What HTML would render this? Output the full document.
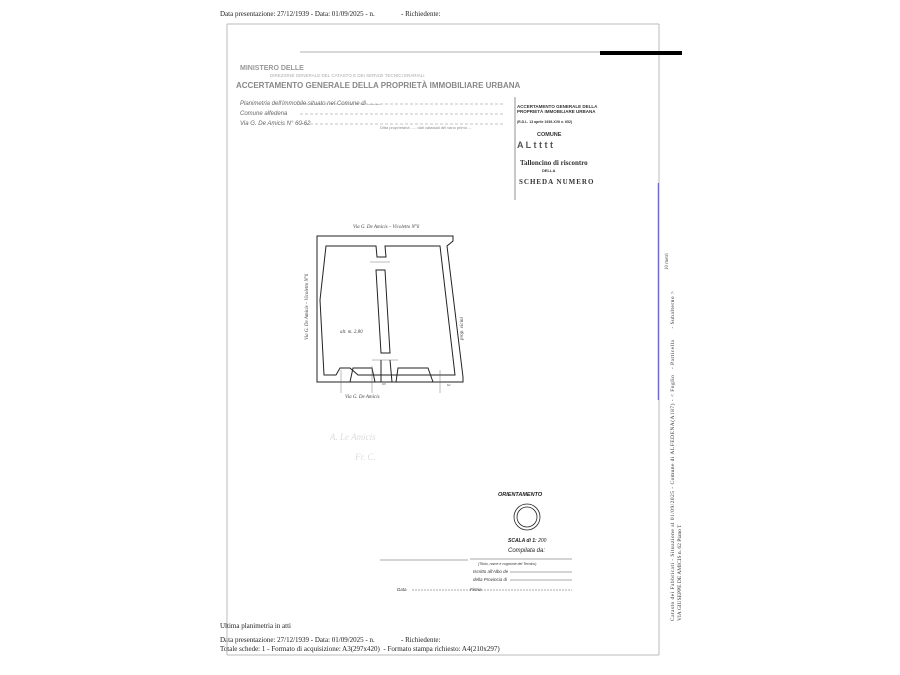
<!DOCTYPE html>
<html><head><style>
body{margin:0;background:#fff;width:900px;height:675px;overflow:hidden;position:relative;font-family:"Liberation Serif",serif;}
.t{position:absolute;font-size:7px;color:#222;white-space:nowrap;}
</style></head><body>
<div class="t" style="left:220px;top:10px;">Data presentazione: 27/12/1939 - Data: 01/09/2025 - n. &nbsp;&nbsp;&nbsp;&nbsp;&nbsp;&nbsp;&nbsp;&nbsp;&nbsp;&nbsp;&nbsp;&nbsp;&nbsp; - Richiedente:</div>
<div class="t" style="left:220px;top:622px;">Ultima planimetria in atti</div>
<div class="t" style="left:220px;top:636px;">Data presentazione: 27/12/1939 - Data: 01/09/2025 - n. &nbsp;&nbsp;&nbsp;&nbsp;&nbsp;&nbsp;&nbsp;&nbsp;&nbsp;&nbsp;&nbsp;&nbsp;&nbsp; - Richiedente:</div>
<div class="t" style="left:220px;top:645px;">Totale schede: 1 - Formato di acquisizione: A3(297x420) &nbsp;- Formato stampa richiesto: A4(210x297)</div>
<svg width="900" height="675" style="position:absolute;left:0;top:0" font-family="Liberation Sans, sans-serif">
<g stroke="#bbb" stroke-width="1" fill="none">
<line x1="227" y1="24" x2="659" y2="24"/>
<line x1="227" y1="24" x2="227" y2="655"/>
<line x1="659" y1="24" x2="659" y2="183"/>
<line x1="659" y1="400" x2="659" y2="655"/>
<line x1="227" y1="655" x2="659" y2="655"/>
</g>
<line x1="658.5" y1="183" x2="658.5" y2="400" stroke="#6b6bd0" stroke-width="1.5"/>
<line x1="300" y1="52" x2="600" y2="52" stroke="#999" stroke-width="0.8"/>
<line x1="600" y1="53" x2="682" y2="53" stroke="#000" stroke-width="4"/>
<g fill="#777" font-size="7">
<text x="240" y="70" font-weight="bold" fill="#999">MINISTERO DELLE</text>
<text x="270" y="77" font-size="4.5" fill="#aaa">DIREZIONE GENERALE DEL CATASTO E DEI SERVIZI TECNICI ERARIALI</text>
<text x="236" y="88" font-weight="bold" font-size="8" fill="#888">ACCERTAMENTO GENERALE DELLA PROPRIETÀ IMMOBILIARE URBANA</text>
<text x="240" y="105" font-style="italic" font-size="6" fill="#666">Planimetria dell'immobile situato nel Comune di ........</text>
<text x="240" y="115" font-style="italic" font-size="6" fill="#666">Comune alfedena</text>
<text x="240" y="125" font-style="italic" font-size="6" fill="#666">Via G. De Amicis N° 60-62</text>
<text x="380" y="129" font-size="4" fill="#888">Ditta proprietaria ..... dati catastali del vano primo ....</text>
</g>
<g stroke="#888" stroke-width="0.6" stroke-dasharray="3,2"><line x1="300" y1="104" x2="505" y2="104"/><line x1="300" y1="114" x2="505" y2="114"/><line x1="300" y1="124" x2="505" y2="124"/></g>
<line x1="515" y1="97" x2="515" y2="200" stroke="#777" stroke-width="0.8"/>
<g font-size="4.5" fill="#333" font-weight="bold">
<text x="517" y="108">ACCERTAMENTO GENERALE DELLA</text>
<text x="517" y="113">PROPRIETÀ IMMOBILIARE URBANA</text>
<text x="517" y="123" font-size="3.5">(R.D.L. 13 aprile 1939-XVII n. 652)</text>
<text x="537" y="136" font-size="5.5">COMUNE</text>
<text x="517" y="148" font-size="9" fill="#555">A L  t  t  t  t</text>
<text x="520" y="165" font-size="7" font-family="Liberation Serif, serif">Talloncino di riscontro</text>
<text x="542" y="172" font-size="4">DELLA</text>
<text x="519" y="184" font-size="7" font-family="Liberation Serif, serif" letter-spacing="1">SCHEDA NUMERO</text>
</g>
<g fill="none" stroke="#222" stroke-width="1">
<path d="M317,236 L453,236 L453,241 L447,246 L463,377 L463,382 L317,382 Z"/>
<path d="M326,246 L376,246 L377,257 L386,257 L385,246 L440,246 L455,375 L358,375 L350,368 L340,368 L336,375 L324,375 L320,300 Z"/>
<path d="M376,270 L385,270 L390,353 L381,353 Z"/>
<path d="M350,382 L353,368 L372,368 L375,382"/>
<path d="M396,382 L398,368 L428,368 L433,382"/>
<path d="M381,360 L381,382 M390,360 L392,382"/>
</g>
<g stroke="#555" stroke-width="0.4"><line x1="370" y1="262" x2="390" y2="262"/><line x1="372" y1="360" x2="398" y2="360"/><line x1="341" y1="370" x2="341" y2="393"/><line x1="372" y1="366" x2="372" y2="393"/><line x1="440" y1="370" x2="440" y2="393"/></g>
<g font-family="Liberation Serif, serif" font-style="italic" font-size="5" fill="#444">
<text x="353" y="228">Via G. De Amicis – Vicoletto N°6</text>
<text x="340" y="333">alt. m. 2.80</text>
<text x="345" y="398">Via G. De Amicis</text>
<text x="382" y="385" font-size="3.5">60</text><text x="447" y="386" font-size="3.5">62</text>
<text transform="translate(308,340) rotate(-90)">Via G. De Amicis – Vicoletto N°6</text>
<text transform="translate(463,340) rotate(-90)">prop. vicini</text>
<text transform="translate(668,270) rotate(-90)" font-style="normal" font-size="5">10 metri</text>
</g>
<g fill="#ddd" font-size="9" font-family="Liberation Serif, serif" font-style="italic"><text x="330" y="440">A. Le Amicis</text><text x="355" y="460">Fr. C.</text></g>
<g font-style="italic" font-weight="bold" font-size="5.5" fill="#222">
<text x="498" y="496">ORIENTAMENTO</text>
<circle cx="527" cy="517" r="13" fill="none" stroke="#222" stroke-width="0.8"/>
<circle cx="527" cy="517" r="10" fill="none" stroke="#222" stroke-width="0.8"/>
<text x="508" y="542" font-size="5">SCALA di 1: <tspan font-weight="normal">200</tspan></text>
<text x="508" y="552" font-size="6" font-weight="normal">Compilata da:</text>
</g>
<g stroke="#555" stroke-width="0.5"><line x1="380" y1="560" x2="468" y2="560"/><line x1="470" y1="559" x2="572" y2="559"/><line x1="510" y1="572" x2="572" y2="572"/><line x1="510" y1="580" x2="572" y2="580"/><line x1="412" y1="590" x2="572" y2="590" stroke-dasharray="2,1"/></g>
<g font-style="italic" font-size="4.5" fill="#333">
<text x="478" y="565" font-size="3.5">(Titolo, nome e cognome del Tecnico)</text>
<text x="473" y="573">Iscritto all'Albo de</text>
<text x="473" y="581">della Provincia di</text>
<text x="397" y="591">Data</text><text x="470" y="591">Firma</text>
</g>
<g font-family="Liberation Serif, serif" font-size="5.5" fill="#333">
<text transform="translate(674,621) rotate(-90)" textLength="330" lengthAdjust="spacing">Catasto dei Fabbricati - Situazione al 01/09/2025 - Comune di ALFEDENA(A187) - &lt; Foglio &#160;&#160;- Particella &#160;&#160;&#160;&#160; - Subalterno &gt;</text>
<text transform="translate(681,621) rotate(-90)">VIA GIUSEPPE DE AMICIS n. 62 Piano T</text>
</g>
</svg>
</body></html>
